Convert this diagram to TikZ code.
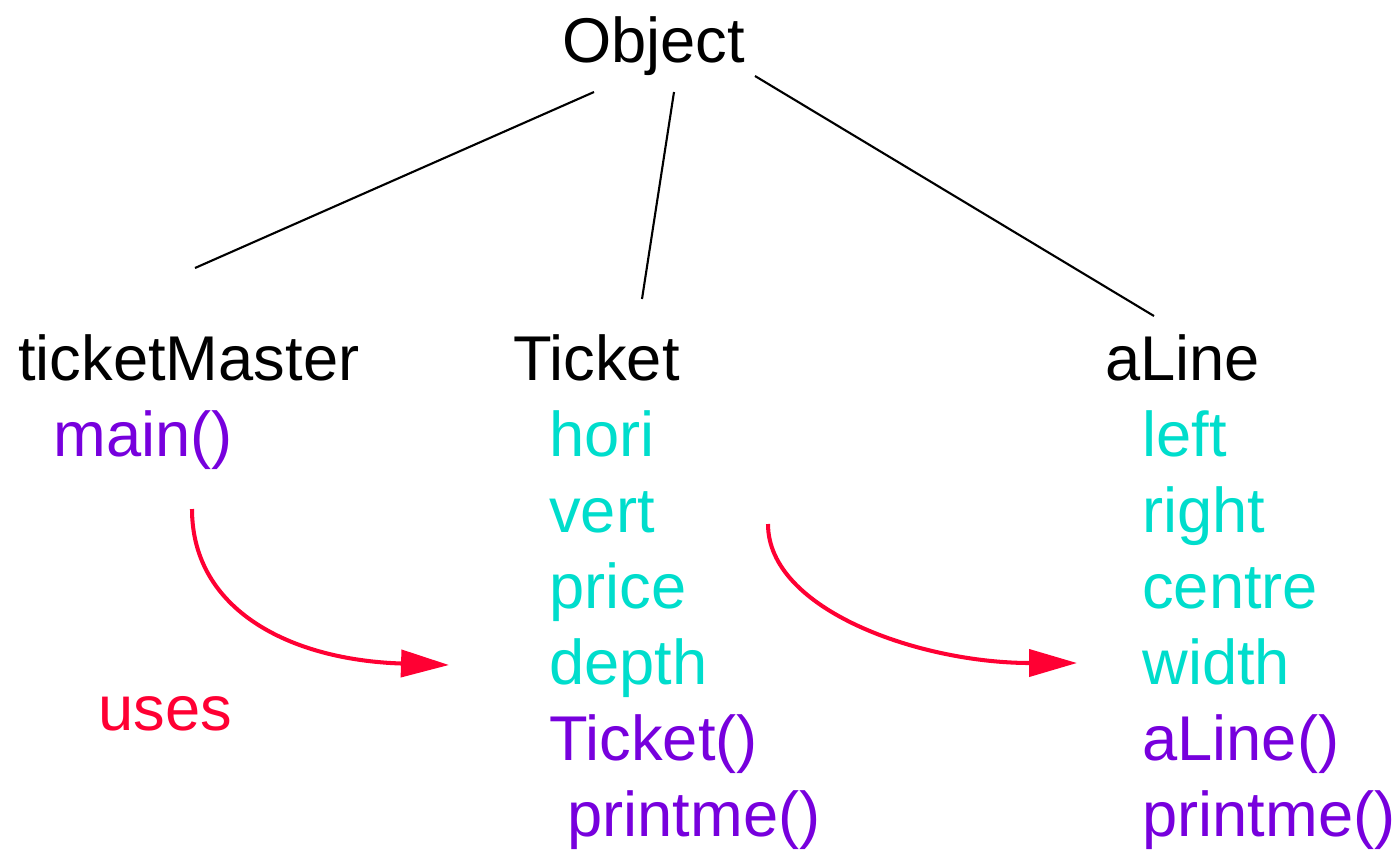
\documentclass[tikz,border=0pt]{standalone}
\usepackage{fontspec}
\setmainfont{Liberation Sans}
\usetikzlibrary{arrows.meta}
\definecolor{fieldcol}{HTML}{00DDCC}
\definecolor{methodcol}{HTML}{7700DD}
\definecolor{usescol}{HTML}{FF0033}
\begin{document}
\begin{tikzpicture}[x=0.02cm,y=-0.02cm,
  lbl/.style={anchor=base west,inner sep=0pt,font=\fontsize{36}{43}\selectfont},
  cls/.style={lbl,text=black},
  field/.style={lbl,text=fieldcol},
  method/.style={lbl,text=methodcol},
  link/.style={line width=1.2pt,black},
  usesarrow/.style={line width=2.3pt,usescol,-{Triangle[length=0.96cm,width=0.54cm]}}]
\useasboundingbox (0,0) rectangle (1399,853);

% class names
\node[cls] (obj) at (562,62) {Object};
\node[cls] (tm) at (18,380) {ticketMaster};
\node[cls] (tk) at (513,380) {Ticket};
\node[cls] (al) at (1105,380) {aLine};

% ticketMaster members
\node[method] (main) at (53,456) {main()};
\node[lbl,text=usescol] (uses) at (98,730) {uses};

% Ticket members
\node[field] (hori) at (549,456) {hori};
\node[field] (vert) at (549,532) {vert};
\node[field] (price) at (549,608) {price};
\node[field] (depth) at (549,684) {depth};
\node[method] (tkc) at (549,760) {Ticket()};
\node[method] (tkp) at (567,836) {printme()};

% aLine members
\node[field] (left) at (1142,456) {left};
\node[field] (right) at (1142,532) {right};
\node[field] (centre) at (1142,608) {centre};
\node[field] (width) at (1142,684) {width};
\node[method] (alc) at (1142,760) {aLine()};
\node[method] (alp) at (1142,836) {printme()};

% inheritance links
\coordinate (o1) at (594,92);
\coordinate (o2) at (674,92);
\coordinate (o3) at (755,76);
\coordinate (c1) at (195,268);
\coordinate (c2) at (642,299);
\coordinate (c3) at (1154,316);
\draw[link] (o1) -- (c1);
\draw[link] (o2) -- (c2);
\draw[link] (o3) -- (c3);

% "uses" arrows
\coordinate (u1s) at (192,509);
\coordinate (u1e) at (449,665);
\coordinate (u2s) at (768,524);
\coordinate (u2e) at (1077,663);
\draw[usesarrow] (u1s) .. controls (192,610) and (290,660) .. (u1e);
\draw[usesarrow] (u2s) .. controls (768,610) and (920,663) .. (u2e);
\end{tikzpicture}
\end{document}
